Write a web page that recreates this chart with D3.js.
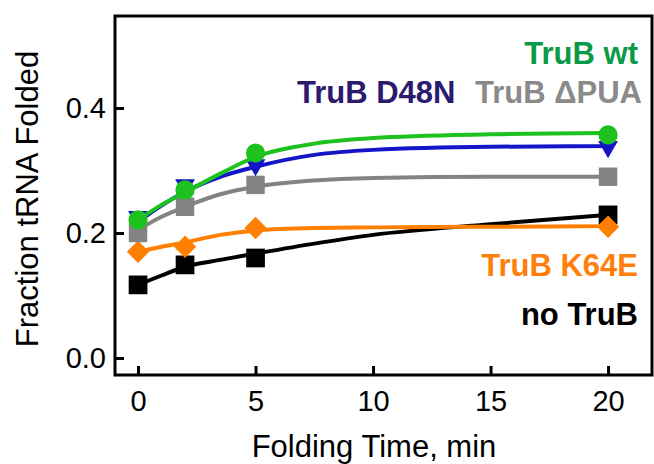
<!DOCTYPE html>
<html>
<head>
<meta charset="utf-8">
<script src="https://cdn.jsdelivr.net/npm/d3@7"></script>
<style>
  body { margin: 0; background: #fff; }
  svg { font-family: Arial, "Liberation Sans", sans-serif; }
</style>
</head>
<body>
<div id="chart"></div>
<script>
// folding times (min) of the measured points
var times = [0, 2, 5, 20];

// measured fraction tRNA folded
var wt     = [0.221, 0.269, 0.328, 0.357];
var d48n   = [0.226, 0.277, 0.309, 0.338];
var dpua   = [0.200, 0.242, 0.277, 0.290];
var k64e   = [0.170, 0.178, 0.208, 0.210];
var noTruB = [0.117, 0.149, 0.160, 0.229];

// fitted curves at these times
var fitTimes  = [0, 1, 2, 3.5, 5, 7.5, 10, 15, 20];
var wtFit     = [0.221, 0.245, 0.265, 0.295, 0.322, 0.343, 0.352, 0.358, 0.360];
var d48nFit   = [0.218, 0.244, 0.266, 0.290, 0.306, 0.325, 0.333, 0.338, 0.339];
var dpuaFit   = [0.205, 0.226, 0.242, 0.262, 0.274, 0.284, 0.288, 0.290, 0.290];
var k64eFit   = [0.170, 0.178, 0.185, 0.197, 0.204, 0.208, 0.209, 0.210, 0.211];
var noTruBFit = [0.117, 0.132, 0.146, 0.157, 0.167, 0.183, 0.197, 0.214, 0.229];

var xTicks = [0, 5, 10, 15, 20];
var yTicks = [0.0, 0.2, 0.4];

var series = [
  { values: noTruB, fit: noTruBFit, color: "#000000", symbol: d3.symbolSquare, size: 350 },
  { values: k64e, fit: k64eFit, color: "#ff7f00", symbol: d3.symbolSquare, size: 250, rot: 45 },
  { values: dpua, fit: dpuaFit, color: "#838383", symbol: d3.symbolSquare, size: 340 },
  { values: d48n, fit: d48nFit, color: "#1414c8", symbol: d3.symbolTriangle, size: 170, rot: 180 },
  { values: wt, fit: wtFit, color: "#1ec21e", symbol: d3.symbolCircle, size: 290 }
];

var labels = [
  { text: "TruB wt", color: "#0b9a46", x: 638, y: 64, anchor: "end" },
  { text: "TruB D48N", color: "#2b1a6e", x: 297, y: 103, anchor: "start" },
  { text: "TruB ΔPUA", color: "#8a8a8a", x: 642, y: 103, anchor: "end" },
  { text: "TruB K64E", color: "#ff7f0a", x: 638, y: 276, anchor: "end" },
  { text: "no TruB", color: "#000000", x: 638, y: 325, anchor: "end" }
];

var width = 654, height = 464;
var mLeft = 115, mRight = 652, mTop = 16, mBottom = 375;

var svg = d3.select("#chart").append("svg")
  .attr("width", width)
  .attr("height", height);

var x = d3.scaleLinear().domain([-0.98, 21.87]).range([mLeft, mRight]);
var y = d3.scaleLinear().domain([-0.0272, 0.5472]).range([mBottom, mTop]);

// frame
svg.append("rect")
  .attr("x", mLeft).attr("y", mTop)
  .attr("width", mRight - mLeft).attr("height", mBottom - mTop)
  .attr("fill", "none").attr("stroke", "#000").attr("stroke-width", 3);

// ticks point inward
var xAxis = d3.axisBottom(x).tickValues(xTicks).tickSizeInner(-9).tickSizeOuter(0).tickPadding(15);
var gx = svg.append("g").attr("transform", `translate(0,${mBottom})`).call(xAxis);
gx.select(".domain").remove();
gx.selectAll("line").attr("stroke-width", 3);
gx.selectAll("text").style("font-size", "29px").attr("fill", "#000");

var yAxis = d3.axisLeft(y).tickValues(yTicks).tickFormat(d3.format(".1f")).tickSizeInner(-9).tickSizeOuter(0).tickPadding(9);
var gy = svg.append("g").attr("transform", `translate(${mLeft},0)`).call(yAxis);
gy.select(".domain").remove();
gy.selectAll("line").attr("stroke-width", 3);
gy.selectAll("text").style("font-size", "29px").attr("fill", "#000");

// fit curves and markers
var line = d3.line()
  .x(function (d, i) { return x(fitTimes[i]); })
  .y(function (d) { return y(d); })
  .curve(d3.curveMonotoneX);

series.forEach(function (s) {
  var g = svg.append("g");
  g.selectAll("path.sym")
    .data(s.values)
    .enter()
    .append("path")
    .attr("class", "sym")
    .attr("d", d3.symbol().type(s.symbol).size(s.size))
    .attr("transform", function (d, i) {
      return `translate(${x(times[i])},${y(d)})` + (s.rot ? ` rotate(${s.rot})` : "");
    })
    .attr("fill", s.color);
  g.append("path")
    .datum(s.fit)
    .attr("d", line)
    .attr("fill", "none")
    .attr("stroke", s.color)
    .attr("stroke-width", 4);
});

// series labels
svg.selectAll("text.lbl")
  .data(labels)
  .enter()
  .append("text")
  .attr("class", "lbl")
  .attr("x", function (d) { return d.x; })
  .attr("y", function (d) { return d.y; })
  .attr("text-anchor", function (d) { return d.anchor; })
  .attr("fill", function (d) { return d.color; })
  .style("font-size", "31px")
  .style("font-weight", "bold")
  .text(function (d) { return d.text; });

// axis titles
svg.append("text")
  .attr("x", 374).attr("y", 457)
  .attr("text-anchor", "middle")
  .style("font-size", "31px")
  .text("Folding Time, min");

svg.append("text")
  .attr("transform", "translate(38,199) rotate(-90)")
  .attr("text-anchor", "middle")
  .style("font-size", "31px")
  .text("Fraction tRNA Folded");
</script>
</body>
</html>
